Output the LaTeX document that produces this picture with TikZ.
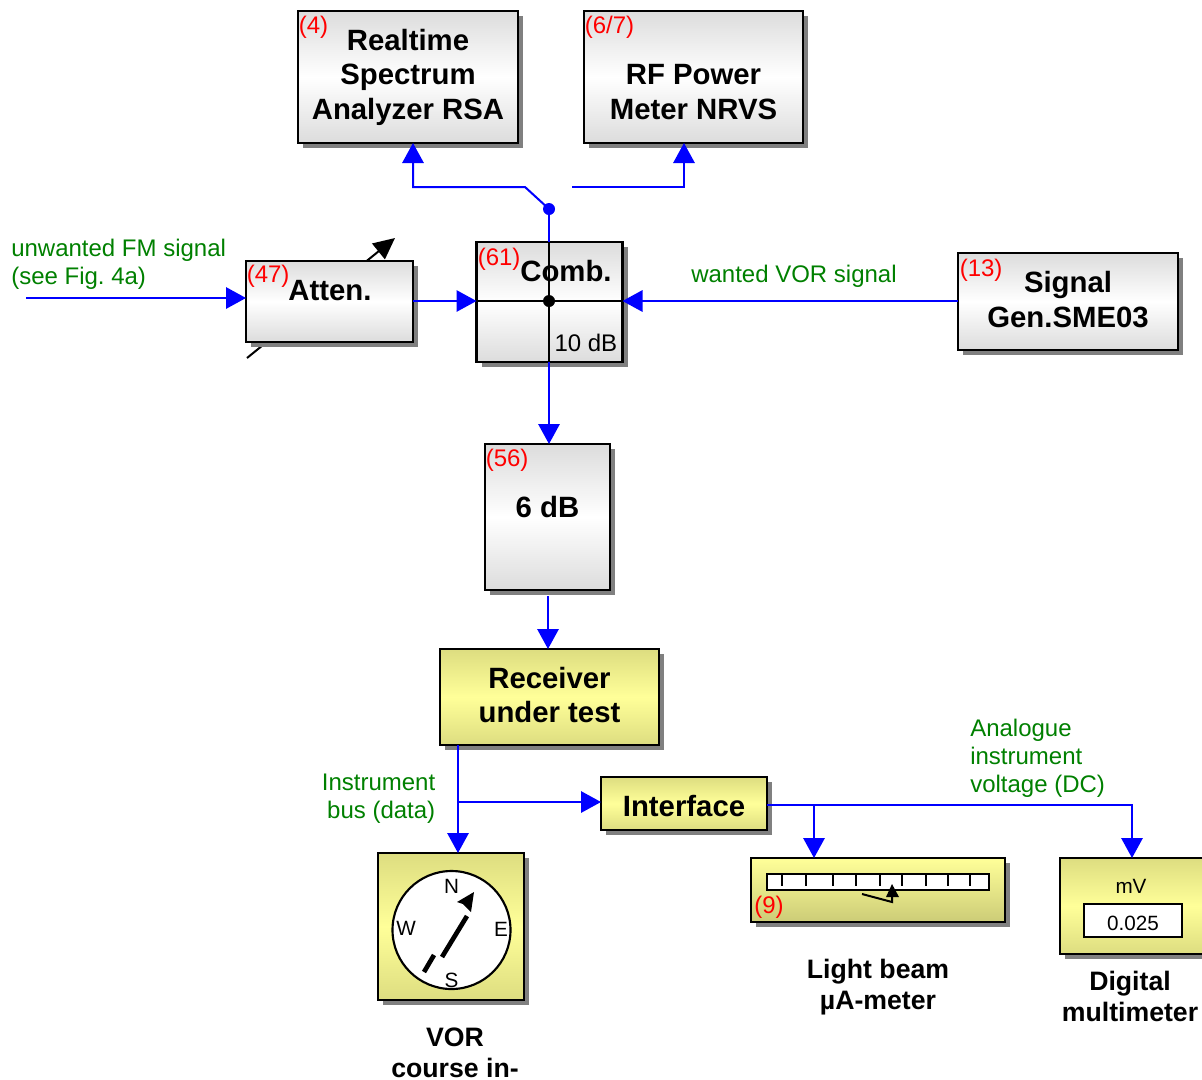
\documentclass[tikz,border=0pt]{standalone}
\usepackage{fontspec}
\setmainfont{Liberation Sans}
\usetikzlibrary{arrows.meta,shadows,calc}
\definecolor{lineblue}{HTML}{0000FF}
\definecolor{labelgreen}{HTML}{008000}
\definecolor{labelred}{HTML}{FF0000}
\definecolor{shadowgrey}{HTML}{808080}
\definecolor{boxgrey}{HTML}{DCDCDC}
\definecolor{boxyellow}{HTML}{FFFF99}
\definecolor{boxolive}{HTML}{DDDD80}
\definecolor{boxolivedark}{HTML}{CCCC77}
\frenchspacing
\tikzset{
  x=0.75pt,y=-0.75pt,
  wh/.style 2 args={minimum width=#1*0.75pt,minimum height=#2*0.75pt},
  basebox/.style={draw=black,line width=1.6pt,inner sep=0pt,outer sep=0pt,
    drop shadow={shadow xshift=3.75pt,shadow yshift=-3.75pt,fill=shadowgrey,opacity=1}},
  greybox/.style={basebox,top color=boxgrey,bottom color=boxgrey,middle color=white},
  yellowbox/.style={basebox,top color=boxolive,bottom color=boxolive,middle color=boxyellow},
  meterbox/.style={basebox,top color=boxyellow,bottom color=boxolivedark},
  title/.style={font=\fontsize{22}{25.9}\selectfont\bfseries,align=center,inner sep=0pt,text=black},
  caption/.style={title,font=\fontsize{20}{23.2}\selectfont\bfseries},
  plain/.style={font=\fontsize{18}{21}\selectfont,inner sep=0pt,text=black},
  small/.style={font=\fontsize{15.5}{18}\selectfont,inner sep=0pt,text=black},
  greentext/.style={font=\fontsize{18}{21}\selectfont,inner sep=0pt,text=labelgreen,anchor=base west,align=left},
  redtext/.style={font=\fontsize{18}{21}\selectfont,inner sep=0pt,text=labelred,anchor=base west},
  wire/.style={draw=lineblue,line width=1.5pt},
  arrowwire/.style={wire,-{Triangle[length=15pt,width=16pt,fill=lineblue]}},
  ink/.style={draw=black,line width=1.5pt},
  whitepanel/.style={draw=black,fill=white,line width=1.6pt,inner sep=0pt,outer sep=0pt},
}
\begin{document}
\begin{tikzpicture}
\useasboundingbox (0,0) rectangle (1202,1079);
\clip (0,0) rectangle (1202,1079);
% attenuator slider, behind the box
\coordinate (slA) at (247,358);
\coordinate (slB) at (395,238);
\draw[ink,-{Triangle[length=16pt,width=15pt,fill=black]}] (slA) -- (slB);

% boxes
\node[greybox,wh={220}{132}] (rsa) at (408,77) {};
\node[greybox,wh={219}{132}] (rf) at (693.5,77) {};
\node[greybox,wh={167}{81}] (atten) at (329.5,301.5) {};
\node[greybox,wh={146}{120}] (comb) at (549.5,302) {};
\node[greybox,wh={220}{97}] (sig) at (1068,301.5) {};
\node[greybox,wh={125}{146}] (six) at (547.5,517) {};
\node[yellowbox,wh={219}{96}] (rx) at (549.5,697) {};
\node[yellowbox,wh={166}{53}] (iface) at (684,803.5) {};
\node[yellowbox,wh={146}{147}] (vor) at (451,926.5) {};
\node[meterbox,wh={254}{64}] (meter) at (878,890) {};
\node[yellowbox,wh={146}{96}] (mm) at (1133,906) {};

% box titles
\node[title] (tRsa) at (408,77) {Realtime\\Spectrum\\Analyzer RSA};
\node[title] (tRf) at (693.5,92) {RF Power\\Meter NRVS};
\node[title] (tAtten) at (330,291) {Atten.};
\node[title] (tComb) at (566,271) {Comb.};
\node[title] (tSig) at (1068,299.5) {Signal\\Gen.SME03};
\node[title] (tSix) at (547.5,507) {6 dB};
\node[title] (tRx) at (549.5,695) {Receiver\\under test};
\node[title] (tIf) at (684,806) {Interface};
\node[caption] (tVor) at (455,1053) {VOR\\course in-};
\node[caption] (tLb) at (878,987) {Light beam\\µA-meter};
\node[caption] (tDm) at (1130,996) {Digital\\multimeter};

% red reference numbers
\node[redtext] (r4) at (298.5,33) {(4)};
\node[redtext] (r67) at (584.5,33) {(6/7)};
\node[redtext] (r47) at (246.5,282) {(47)};
\node[redtext] (r61) at (477.5,265) {(61)};
\node[redtext] (r13) at (959.5,276) {(13)};
\node[redtext] (r56) at (485.5,466) {(56)};
\node[redtext] (r9) at (754,913) {(9)};

% green signal labels
\node[greentext] (gFm) at (11,284) {unwanted FM signal\\(see Fig. 4a)};
\node[greentext] (gVor) at (691,282) {wanted VOR signal};
\node[greentext] (gDc) at (970,792) {Analogue\\instrument\\voltage (DC)};
\node[greentext,align=right,anchor=base east] (gBus) at (435.5,818) {Instrument\\bus (data)};

% coordinates of connector ends
\coordinate (inFree) at (26,298);
\coordinate (cross) at (549,301);
\coordinate (split) at (549,209);
\coordinate (kneeA) at (525,187);
\coordinate (kneeB) at (413,187);
\coordinate (freeC) at (572,187);
\coordinate (kneeC) at (684,187);
\coordinate (sixOut) at (548,596);
\coordinate (rxOut) at (458,745);
\coordinate (busTap) at (458,802);
\coordinate (ifOut) at (767,805);
\coordinate (meterTap) at (814,805);
\coordinate (mmKnee) at (1132,805);

% connectors
\draw[arrowwire] (inFree) -- (atten.west |- inFree);
\draw[arrowwire] (atten.east |- cross) -- (comb.west |- cross);
\draw[arrowwire] (sig.west |- cross) -- (comb.east |- cross);
\draw[wire] (split) -- (cross |- comb.north);
\draw[arrowwire] (cross |- comb.south) -- (cross |- six.north);
\draw[arrowwire] (split) -- (kneeA) -- (kneeB) -- (kneeB |- rsa.south);
\draw[arrowwire] (freeC) -- (kneeC) -- (kneeC |- rf.south);
\draw[arrowwire] (sixOut) -- (sixOut |- rx.north);
\draw[arrowwire] (rxOut) -- (rxOut |- vor.north);
\draw[arrowwire] (busTap) -- (iface.west |- busTap);
\draw[arrowwire] (ifOut) -- (mmKnee) -- (mmKnee |- mm.north);
\draw[arrowwire] (meterTap) -- (meterTap |- meter.north);
\fill[lineblue] (split) circle (6);

% combiner cross
\draw[ink] (comb.west |- cross) -- (comb.east |- cross);
\draw[ink] (cross |- comb.north) -- (cross |- comb.south);
\fill[black] (cross) circle (6);
\node[plain,anchor=base east] (tTen) at (617.5,351) {10 dB};

% compass
\node[whitepanel,circle,minimum size=88.5pt] (dial) at (451.5,930) {};
\node[small] (cN) at (451.5,886) {N};
\node[small] (cW) at (406,928) {W};
\node[small] (cE) at (501,929) {E};
\node[small] (cS) at (451.5,980) {S};
\draw[draw=black,line width=3.5pt] (424,972) -- (434,955);
\draw[draw=black,line width=3.5pt] (442,957) -- (467,916);
\fill[black] (474,892) -- (457,902) -- (463,904) -- (471,912) -- cycle;

% light beam meter
\node[whitepanel,minimum width=166.5pt,minimum height=12pt] (scale) at (878,882) {};
\foreach \tx in {782,806,833,856,880,902,926,948,970}
  \draw[ink] (\tx,874) -- (\tx,886);
\draw[ink,line join=miter] (862,894) -- (892,902) -- (892,897);
\fill[black] (892,884) -- (886,897) -- (899,897) -- cycle;

% multimeter
\node[small] (tMv) at (1131,886) {mV};
\node[whitepanel,minimum width=73.5pt,minimum height=24.75pt] (disp) at (1133,920.5) {};
\node[small] (tDisp) at (1133,923) {0.025};
\end{tikzpicture}
\end{document}
